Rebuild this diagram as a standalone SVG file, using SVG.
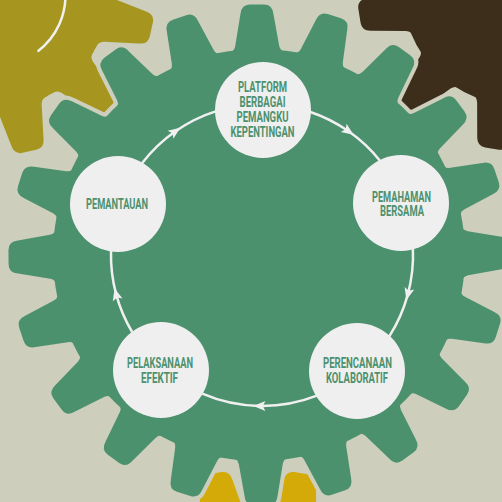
<svg xmlns="http://www.w3.org/2000/svg" xmlns:xlink="http://www.w3.org/1999/xlink" width="502" height="502" viewBox="0 0 502 502">
<style>
.bg{fill:#cdcfbc}
.ring{fill:none;stroke:#f0f0f0;stroke-width:2.5;marker-mid:url(#arr)}
.node circle{fill:#efefef}
.node text{font-family:"Liberation Sans Narrow","Roboto","Liberation Sans",sans-serif;font-weight:bold;font-size:14px;fill:#4c916e;text-anchor:middle}
.arc{fill:none;stroke:#f0f0f0;stroke-width:2.5}
</style>
<defs>
<path id="t1" d="M -30,-195 L -30,-202 Q -23,-203 -22,-209 L -16.5,-241 Q -15.5,-250.5 -7,-250.5 L 7,-250.5 Q 15.5,-250.5 16.5,-241 L 22,-209 Q 23,-203 30,-202 L 30,-195 Z"/>
<path id="t2" d="M -30,-105 L -30,-109 Q -23,-110 -22,-116 L -16.5,-150 Q -15.5,-159.5 -7,-159.5 L 7,-159.5 Q 15.5,-159.5 16.5,-150 L 22,-116 Q 23,-110 30,-109 L 30,-105 Z"/>
<g id="gbig">
<circle r="206"/>
<use href="#t1"/><use href="#t1" transform="rotate(18)"/><use href="#t1" transform="rotate(36)"/><use href="#t1" transform="rotate(54)"/><use href="#t1" transform="rotate(72)"/>
<use href="#t1" transform="rotate(90)"/><use href="#t1" transform="rotate(108)"/><use href="#t1" transform="rotate(126)"/><use href="#t1" transform="rotate(144)"/><use href="#t1" transform="rotate(162)"/>
<use href="#t1" transform="rotate(180)"/><use href="#t1" transform="rotate(198)"/><use href="#t1" transform="rotate(216)"/><use href="#t1" transform="rotate(234)"/><use href="#t1" transform="rotate(252)"/>
<use href="#t1" transform="rotate(270)"/><use href="#t1" transform="rotate(288)"/><use href="#t1" transform="rotate(306)"/><use href="#t1" transform="rotate(324)"/><use href="#t1" transform="rotate(342)"/>
</g>
<marker id="arr" markerUnits="userSpaceOnUse" markerWidth="14" markerHeight="14" viewBox="-7 -7 14 14" refX="0" refY="0" orient="auto">
<path d="M -6,-5 L 6,0 L -6,5 L -3.5,0 Z" fill="#f0f0f0"/>
</marker>
</defs>
<rect class="bg" x="0" y="0" width="502" height="502"/>
<g id="gear-olive" transform="translate(-4.5,-4.5)" fill="#a69620">
<circle r="113"/>
<use href="#t2" transform="rotate(135)"/><use href="#t2" transform="rotate(167.73)"/><use href="#t2" transform="rotate(200.45)"/><use href="#t2" transform="rotate(233.18)"/>
<use href="#t2" transform="rotate(265.9)"/><use href="#t2" transform="rotate(298.6)"/><use href="#t2" transform="rotate(331.4)"/><use href="#t2" transform="rotate(4.1)"/>
<use href="#t2" transform="rotate(36.8)"/><use href="#t2" transform="rotate(69.5)"/><use href="#t2" transform="rotate(102.27)"/>
</g>
<g id="gear-brown" transform="translate(517,-9)" fill="#3d2e1b">
<circle r="114"/>
<use href="#t2" transform="rotate(225)"/><use href="#t2" transform="rotate(261)"/><use href="#t2" transform="rotate(297)"/><use href="#t2" transform="rotate(333)"/><use href="#t2" transform="rotate(9)"/>
<use href="#t2" transform="rotate(45)"/><use href="#t2" transform="rotate(81)"/><use href="#t2" transform="rotate(117)"/><use href="#t2" transform="rotate(153)"/><use href="#t2" transform="rotate(189)"/>
</g>
<g id="gear-yellow" transform="translate(258,720)" fill="#d4aa08">
<circle r="206"/>
<use href="#t1" transform="rotate(-10)"/><use href="#t1" transform="rotate(10)"/>
</g>
<g id="gear-green">
<use href="#gbig" transform="translate(259,255) rotate(-0.5)" fill="#cdcfbc" stroke="#cdcfbc" stroke-width="8" stroke-linejoin="round"/>
<use href="#gbig" transform="translate(259,255) rotate(-0.5)" fill="#4c916e"/>
</g>
<path class="arc" d="M 65.2,-10.6 A 70 70 0 0 1 37.6,51.4"/>
<g id="connectors">
<path class="ring" d="M 142.2,163.1 A 151 151 0 0 1 175.4,131.3 A 151 151 0 0 1 216.3,111.1"/>
<path class="ring" d="M 309.7,111.7 A 151 151 0 0 1 348.6,131.3 A 151 151 0 0 1 380.2,161.0"/>
<path class="ring" d="M 412.9,248.4 A 151 151 0 0 1 407.9,294.1 A 151 151 0 0 1 389.1,336.6"/>
<path class="ring" d="M 316.9,395.7 A 151 151 0 0 1 259.4,406.0 A 151 151 0 0 1 202.3,393.7"/>
<path class="ring" d="M 132.2,332.1 A 151 151 0 0 1 116.1,294.1 A 151 151 0 0 1 111.0,251.0"/>
</g>
<g id="n-platform" class="node">
<circle cx="263" cy="110" r="48"/>
<text x="262.5" y="92" textLength="49" lengthAdjust="spacingAndGlyphs">PLATFORM</text>
<text x="262.5" y="107" textLength="46" lengthAdjust="spacingAndGlyphs">BERBAGAI</text>
<text x="262.5" y="122" textLength="52" lengthAdjust="spacingAndGlyphs">PEMANGKU</text>
<text x="262.5" y="137" textLength="64" lengthAdjust="spacingAndGlyphs">KEPENTINGAN</text>
</g>
<g id="n-pemahaman" class="node">
<circle cx="401" cy="203" r="48"/>
<text x="401.5" y="201.5" textLength="59" lengthAdjust="spacingAndGlyphs">PEMAHAMAN</text>
<text x="402" y="216" textLength="44" lengthAdjust="spacingAndGlyphs">BERSAMA</text>
</g>
<g id="n-perencanaan" class="node">
<circle cx="357" cy="371" r="48"/>
<text x="357.5" y="368" textLength="69" lengthAdjust="spacingAndGlyphs">PERENCANAAN</text>
<text x="357" y="383" textLength="62" lengthAdjust="spacingAndGlyphs">KOLABORATIF</text>
</g>
<g id="n-pelaksanaan" class="node">
<circle cx="161" cy="370" r="48"/>
<text x="160" y="368" textLength="66" lengthAdjust="spacingAndGlyphs">PELAKSANAAN</text>
<text x="159.5" y="383" textLength="37" lengthAdjust="spacingAndGlyphs">EFEKTIF</text>
</g>
<g id="n-pemantauan" class="node">
<circle cx="118" cy="204" r="48"/>
<text x="117" y="209" textLength="62" lengthAdjust="spacingAndGlyphs">PEMANTAUAN</text>
</g>
</svg>
